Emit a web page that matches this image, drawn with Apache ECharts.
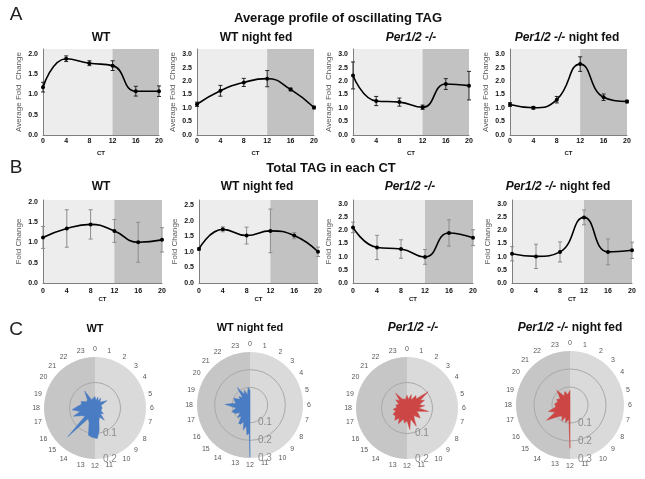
<!DOCTYPE html>
<html lang="en">
<head>
<meta charset="UTF-8">
<title>TAG profiles</title>
<script src="https://cdn.jsdelivr.net/npm/echarts@6/dist/echarts.min.js"></script>
<style>
  html, body { margin: 0; padding: 0; background: #fff; }
  #chart { width: 645px; height: 479px; }
</style>
</head>
<body>
<div id="chart"></div>
<script>
// x positions (CT)
var ct = [0, 4, 8, 12, 16, 20];

// A - average profile of oscillating TAG (mean, +/- error)
var avgWT = [1.18, 1.88, 1.77, 1.71, 1.08, 1.08];
var avgWTErr = [0.12, 0.07, 0.06, 0.12, 0.12, 0.13];
var avgWTnf = [1.14, 1.64, 1.95, 2.09, 1.69, 1.02];
var avgWTnfErr = [0.08, 0.2, 0.15, 0.3, 0.05, 0.05];
var avgPer = [2.21, 1.26, 1.22, 1.03, 1.89, 1.83];
var avgPerErr = [0.5, 0.17, 0.15, 0.08, 0.2, 0.53];
var avgPernf = [1.13, 1.01, 1.31, 2.63, 1.4, 1.24];
var avgPernfErr = [0.07, 0.05, 0.12, 0.27, 0.12, 0.05];

// B - total TAG in each CT
var totWT = [1.12, 1.34, 1.44, 1.28, 1.0, 1.06];
var totWTErr = [0.27, 0.46, 0.36, 0.28, 0.49, 0.3];
var totWTnf = [1.09, 1.72, 1.52, 1.67, 1.52, 1.0];
var totWTnfErr = [0.05, 0.08, 0.27, 0.7, 0.1, 0.15];
var totPer = [2.11, 1.35, 1.29, 0.99, 1.9, 1.72];
var totPerErr = [0.2, 0.46, 0.35, 0.28, 0.5, 0.3];
var totPernf = [1.11, 1.01, 1.18, 2.49, 1.18, 1.24];
var totPernfErr = [0.27, 0.46, 0.38, 0.28, 0.49, 0.31];

// C - phase distribution (hour, value)
var roseWTHours = [0,0.5,1,1.5,2,2.7,3.9,4.5,5.2,6,6.8,7.5,8.3,9,9.5,10.2,10.8,11.3,11.7,12,12.4,12.9,13.5,14.2,14.9,15.4,16,16.6,17.1,17.7,18.3,19,19.7,20.5,21.2,21.9,22.5,23.2];
var roseWTVals = [0.045,0.03,0.045,0.03,0.045,0.03,0.055,0.025,0.03,0.028,0.032,0.025,0.04,0.03,0.06,0.04,0.05,0.09,0.12,0.118,0.115,0.11,0.06,0.05,0.155,0.05,0.06,0.09,0.06,0.09,0.07,0.055,0.06,0.04,0.045,0.078,0.035,0.04];
var roseWTnfHours = [0,0.3,6,11.9,12,12.1,12.4,12.7,13,13.4,13.7,14.1,14.5,15,15.5,16,16.7,17.2,17.6,18.1,18.5,19,19.5,20,20.5,21,21.6,22.1,22.6,23.1,23.6];
var roseWTnfVals = [0.085,0.005,0.005,0.005,0.295,0.16,0.17,0.12,0.147,0.1,0.12,0.123,0.08,0.1,0.07,0.095,0.11,0.08,0.1,0.142,0.08,0.09,0.1,0.065,0.08,0.06,0.123,0.07,0.09,0.06,0.1];
var rosePerHours = [0,0.6,1.2,1.8,2.4,3,3.5,4,4.4,5,5.5,6,6.6,7.2,7.8,8.5,9.2,9.7,10.2,10.8,11.5,12,12.6,13.2,13.9,14.5,15,15.7,16.4,17,17.6,18.3,19,19.7,20.4,21,21.5,22.1,22.8,23.4];
var rosePerVals = [0.05,0.035,0.055,0.035,0.06,0.05,0.105,0.06,0.075,0.05,0.07,0.045,0.085,0.04,0.05,0.065,0.04,0.05,0.08,0.045,0.085,0.05,0.06,0.045,0.07,0.05,0.068,0.055,0.06,0.045,0.055,0.04,0.045,0.035,0.055,0.04,0.073,0.04,0.045,0.035];
var rosePernfHours = [0,0.3,6,11.9,12,12.3,12.9,13.4,13.8,14.4,15,15.8,16.3,16.9,17.5,18.3,18.9,19.5,20.2,20.7,21.2,21.8,22.6,23.2,23.7];
var rosePernfVals = [0.08,0.005,0.005,0.005,0.24,0.08,0.1,0.07,0.1,0.075,0.09,0.155,0.09,0.125,0.08,0.085,0.07,0.08,0.065,0.08,0.11,0.06,0.08,0.06,0.07];

var FONT = 'Liberation Sans, Arial, sans-serif';

var panels = [
  {box: [43, 49, 116, 86], ymax: 2.12, vals: avgWT, err: avgWTErr, name: 'Average Fold  Change', ec: '#262626'},
  {box: [197, 49, 117, 86], ymax: 3.19, vals: avgWTnf, err: avgWTnfErr, name: 'Average Fold  Change', ec: '#262626'},
  {box: [353, 49, 116, 86], ymax: 3.19, vals: avgPer, err: avgPerErr, name: 'Average Fold  Change', ec: '#262626'},
  {box: [510, 49, 117, 86], ymax: 3.19, vals: avgPernf, err: avgPernfErr, name: 'Average Fold  Change', ec: '#262626'},
  {box: [43, 200, 119, 83], ymax: 2.04, vals: totWT, err: totWTErr, name: 'Fold Change', ec: '#8c8c8c'},
  {box: [199, 200, 119, 83], ymax: 2.66, vals: totWTnf, err: totWTnfErr, name: 'Fold Change', ec: '#8c8c8c'},
  {box: [353, 200, 120, 83], ymax: 3.15, vals: totPer, err: totPerErr, name: 'Fold Change', ec: '#8c8c8c'},
  {box: [512, 200, 120, 83], ymax: 3.15, vals: totPernf, err: totPernfErr, name: 'Fold Change', ec: '#8c8c8c'}
];

var roses = [
  {center: [95, 408], r: 51, rmax: 0.2, hours: roseWTHours, vals: roseWTVals, color: '#4a7cc3'},
  {center: [250, 405], r: 53, rmax: 0.3, hours: roseWTnfHours, vals: roseWTnfVals, color: '#4a7cc3'},
  {center: [407, 408], r: 51, rmax: 0.2, hours: rosePerHours, vals: rosePerVals, color: '#cc4646'},
  {center: [570, 405], r: 54, rmax: 0.3, hours: rosePernfHours, vals: rosePernfVals, color: '#cc4646'}
];

function errRender(params, api) {
  var x = api.value(0);
  var top = api.coord([x, api.value(2)]);
  var bot = api.coord([x, api.value(1)]);
  var w = 2;
  var st = {stroke: api.visual('color'), lineWidth: 1};
  return {
    type: 'group',
    children: [
      {type: 'line', shape: {x1: top[0], y1: top[1], x2: bot[0], y2: bot[1]}, style: st},
      {type: 'line', shape: {x1: top[0] - w, y1: top[1], x2: top[0] + w, y2: top[1]}, style: st},
      {type: 'line', shape: {x1: bot[0] - w, y1: bot[1], x2: bot[0] + w, y2: bot[1]}, style: st}
    ]
  };
}

var grid = [], xAxis = [], yAxis = [], series = [];
panels.forEach(function (p, i) {
  grid.push({left: p.box[0], top: p.box[1], width: p.box[2], height: p.box[3],
    show: true, backgroundColor: '#ededed', borderWidth: 0});
  xAxis.push({
    gridIndex: i, type: 'value', min: 0, max: 20, interval: 4,
    name: 'CT', nameLocation: 'middle', nameGap: i < 4 ? 15 : 13,
    nameTextStyle: {fontSize: 6, fontWeight: 'bold', color: '#111', fontFamily: FONT},
    axisLine: {lineStyle: {color: '#7f7f7f'}},
    axisTick: {show: false},
    splitLine: {show: false},
    axisLabel: {fontSize: 7, fontWeight: 'bold', color: '#111', margin: i < 4 ? 3 : 5, fontFamily: FONT}
  });
  yAxis.push({
    gridIndex: i, type: 'value', min: 0, max: p.ymax, interval: 0.5,
    name: p.name, nameLocation: 'middle', nameGap: 20,
    nameTextStyle: {fontSize: 8, color: '#595959', fontFamily: FONT},
    axisLine: {show: true, lineStyle: {color: '#7f7f7f'}},
    axisTick: {show: false},
    splitLine: {show: false},
    axisLabel: {fontSize: 7, fontWeight: 'bold', color: '#111', margin: 5, showMaxLabel: false,
      fontFamily: FONT, formatter: function (v) { return v.toFixed(1); }}
  });
  series.push({
    type: 'custom', xAxisIndex: i, yAxisIndex: i, renderItem: errRender,
    itemStyle: {color: p.ec}, z: 3,
    encode: {x: 0, y: [1, 2]},
    data: ct.map(function (x, k) { return [x, p.vals[k] - p.err[k], p.vals[k] + p.err[k]]; })
  });
  series.push({
    type: 'line', xAxisIndex: i, yAxisIndex: i, smooth: 0.5,
    symbol: 'circle', symbolSize: 4,
    itemStyle: {color: '#000'}, lineStyle: {color: '#000', width: 1.6}, z: 4,
    data: ct.map(function (x, k) { return [x, p.vals[k]]; }),
    markArea: {silent: true, itemStyle: {color: '#c2c2c2'}, data: [[{xAxis: 12}, {xAxis: 20}]]}
  });
});

function rosePoints(hours, vals) {
  var pts = hours.map(function (h, k) { return [vals[k], h < 12 ? h + 24 : h]; });
  pts.sort(function (a, b) { return a[1] - b[1]; });
  pts.push([pts[0][0], pts[0][1] + 24]);
  return pts;
}

var polar = [], angleAxis = [], radiusAxis = [];
roses.forEach(function (r, i) {
  polar.push({center: r.center, radius: r.r});
  angleAxis.push({
    polarIndex: i, type: 'value', min: 12, max: 36, interval: 1,
    startAngle: -90, clockwise: true,
    axisLine: {show: false}, axisTick: {show: false}, splitLine: {show: false},
    axisLabel: {fontSize: 7, color: '#595959', margin: 4, fontFamily: FONT,
      formatter: function (v) { return v >= 36 ? '' : String(v % 24); }}
  });
  var ringColors = r.rmax > 0.25
    ? ['rgba(0,0,0,0)', '#a9a9a9', '#a9a9a9', 'rgba(0,0,0,0)']
    : ['rgba(0,0,0,0)', '#a9a9a9', 'rgba(0,0,0,0)'];
  radiusAxis.push({
    polarIndex: i, type: 'value', min: 0, max: r.rmax, interval: 0.1, z: 5,
    axisLine: {show: false}, axisTick: {show: false},
    splitLine: {show: true, lineStyle: {color: ringColors, width: 1}},
    axisLabel: {fontSize: 10, color: '#8c8c8c', showMinLabel: false, fontFamily: FONT,
      formatter: function (v) { return v.toFixed(1); }}
  });
  series.push({
    type: 'pie', center: r.center, radius: r.r, startAngle: 90, silent: true, z: 1,
    label: {show: false}, labelLine: {show: false},
    data: [{value: 12, itemStyle: {color: '#dadada'}}, {value: 12, itemStyle: {color: '#c6c6c6'}}]
  });
  series.push({
    type: 'line', coordinateSystem: 'polar', polarIndex: i, symbol: 'none', z: 6,
    lineStyle: {color: r.color, width: 0.5},
    areaStyle: {color: r.color, opacity: 1},
    data: rosePoints(r.hours, r.vals)
  });
});

function txt(x, y, s, size, weight, extra) {
  var style = {text: s, x: x, y: y, font: (weight || 'normal') + ' ' + size + 'px ' + FONT,
    fill: '#111', align: 'center', verticalAlign: 'middle'};
  if (extra) { for (var k in extra) style[k] = extra[k]; }
  return {type: 'text', style: style};
}
var richTitle = {i: {fontStyle: 'italic', fontWeight: 'bold', fontSize: 12, fontFamily: FONT, fill: '#111'}};
function perTitle(x, y, tail) {
  return {type: 'text', style: {text: '{i|Per1/2 -/-}' + tail, x: x, y: y, align: 'center', verticalAlign: 'middle',
    font: 'bold 12px ' + FONT, fill: '#111', rich: richTitle}};
}

var graphic = [
  txt(16, 15, 'A', 19, 'normal', {fill: '#222'}),
  txt(16, 168, 'B', 19, 'normal', {fill: '#222'}),
  txt(16, 330, 'C', 19, 'normal', {fill: '#222'}),
  txt(338, 18, 'Average profile of oscillating TAG', 13, 'bold'),
  txt(331, 168, 'Total TAG in each CT', 13, 'bold'),
  txt(101, 38, 'WT', 12, 'bold'),
  txt(256, 38, 'WT night fed', 12, 'bold'),
  perTitle(411, 38, ''),
  perTitle(567, 38, ' night fed'),
  txt(101, 187, 'WT', 12, 'bold'),
  txt(257, 187, 'WT night fed', 12, 'bold'),
  perTitle(410, 187, ''),
  perTitle(558, 187, ' night fed'),
  txt(95, 329, 'WT', 11, 'bold'),
  txt(250, 328, 'WT night fed', 11, 'bold'),
  perTitle(413, 328, ''),
  perTitle(570, 328, ' night fed')
];

var chart = echarts.init(document.getElementById('chart'));
chart.setOption({
  animation: false,
  backgroundColor: '#fff',
  grid: grid, xAxis: xAxis, yAxis: yAxis,
  polar: polar, angleAxis: angleAxis, radiusAxis: radiusAxis,
  series: series,
  graphic: graphic
});
</script>
</body>
</html>
